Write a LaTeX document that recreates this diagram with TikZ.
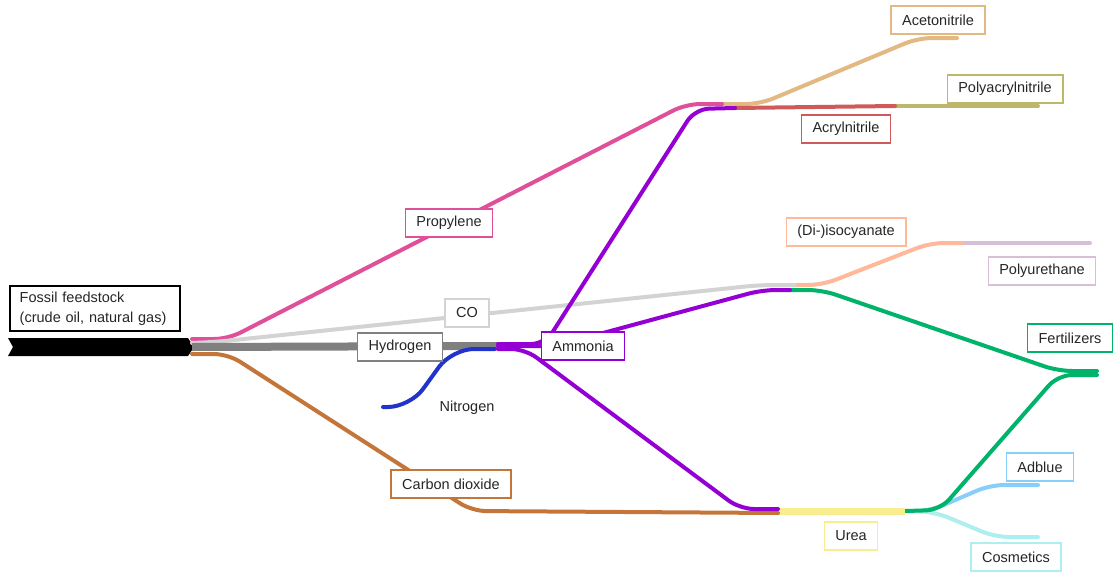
\documentclass[tikz,border=0pt]{standalone}
\usepackage{fontspec}
\setmainfont{Liberation Sans}
\definecolor{propcol}{RGB}{224,80,154}
\definecolor{acetcol}{RGB}{226,185,130}
\definecolor{acrycol}{RGB}{208,90,90}
\definecolor{pancol}{RGB}{189,183,107}
\definecolor{ammcol}{RGB}{148,0,211}
\definecolor{cocol}{RGB}{211,211,211}
\definecolor{hydcol}{RGB}{128,128,128}
\definecolor{co2col}{RGB}{196,118,58}
\definecolor{nitcol}{RGB}{34,51,204}
\definecolor{fertcol}{RGB}{0,179,107}
\definecolor{isocol}{RGB}{255,184,153}
\definecolor{purcol}{RGB}{216,191,216}
\definecolor{ureacol}{RGB}{248,238,144}
\definecolor{adbcol}{RGB}{135,206,250}
\definecolor{cosmcol}{RGB}{175,238,238}

\begin{document}
\begin{tikzpicture}[
        x=1pt, y=-1pt,
        flow/.style={line width=4pt, line cap=round, rounded corners=14pt},
        lbl/.style={draw, fill=white, line width=1.5pt, inner xsep=11pt,
                    minimum height=28pt, text=black!85,
                    font=\fontsize{14.5}{17}\selectfont}
    ]
        \useasboundingbox (0,0) rectangle (1118,573);

        \node[draw=black, line width=1.5pt, anchor=north west,
              minimum width=170pt, minimum height=45pt, text width=150pt,
              align=left, text=black!85, font=\fontsize{14.5}{20}\selectfont] (feed)
            at (9,285) {Fossil feedstock\\(crude oil, natural gas)};
        \fill[black] (8,338) -- (188,338) -- (194,347) -- (188,356)
            -- (8,356) -- (13,347) -- cycle;

        % junctions
        \coordinate (fs)  at (192,347);
        \coordinate (nh)  at (498,346);
        \coordinate (pj)  at (722,104);
        \coordinate (aj)  at (735,108);
        \coordinate (pa)  at (895,106);
        \coordinate (ij)  at (790,287);
        \coordinate (pu)  at (958,243);
        \coordinate (us)  at (778,511);
        \coordinate (ue)  at (905,511);
        \coordinate (fe)  at (1097,373);

        % products
        \draw[flow, purcol]  (pu) -- (1090,243);
        \draw[flow, pancol]  (pa) -- (1038,106);
        \draw[flow, acetcol] ([xshift=-4pt]pj) -- (760,104) -- (918,38) -- (957,38);
        \draw[flow, isocol]  ([yshift=2pt]ij) -- (822,285) -- (930,243) -- ([xshift=4pt]pu);
        \draw[flow, adbcol]  (ue) -- (930,511) -- (990,485) -- (1038,485);
        \draw[flow, cosmcol] (ue) -- (935,512) -- (995,537) -- (1038,537);
        \draw[flow, fertcol] ([yshift=-3pt]ij) -- (822,290) -- (1058,371) -- ([yshift=2pt]fe);
        \draw[flow, fertcol] (ue) -- (940,510) -- (1058,375) -- ([yshift=-2pt]fe);
        \draw[flow, ureacol, line width=7pt, line cap=butt] (us) -- (ue);
        \draw[flow, acrycol] (aj) -- (pa);

        % feedstock streams
        \draw[flow, co2col]  ([yshift=-7pt]fs) -- (228,354) -- (472,511) -- ([yshift=-2pt]us);
        \draw[flow, propcol] ([yshift=8pt]fs) -- (228,339) -- (686,104) -- (pj);
        \draw[flow, cocol]   ([yshift=4pt]fs) -- (215,342) -- (760,285) -- ([xshift=5pt,yshift=2pt]ij);
        \draw[flow, hydcol, line width=8pt, line cap=butt] (fs) -- ([xshift=2pt]nh);
        \draw[flow, nitcol, rounded corners=22pt] (383,407) -- (410,407) -- (452,349) -- ([xshift=-3pt,yshift=-3pt]nh);

        % ammonia streams
        \draw[flow, ammcol] ([yshift=2pt]nh) -- (545,344) -- (695,109) -- (aj);
        \draw[flow, ammcol] (nh) -- (555,346) -- (762,290) -- ([yshift=-3pt]ij);
        \draw[flow, ammcol] ([yshift=-3pt]nh) -- (525,349) -- (740,509) -- ([yshift=2pt]us);

        \node[lbl, draw=acetcol] (acn)  at (938,20)  {Acetonitrile};
        \node[lbl, draw=pancol]  (pan)  at (1005,89) {Polyacrylnitrile};
        \node[lbl, draw=acrycol] (acr)  at (846,129) {Acrylnitrile};
        \node[lbl, draw=propcol] (prop) at (449,223) {Propylene};
        \node[lbl, draw=isocol]  (iso)  at (846,232) {(Di-)isocyanate};
        \node[lbl, draw=purcol]  (pur)  at (1042,271) {Polyurethane};
        \node[lbl, draw=cocol]   (co)   at (467,313) {CO};
        \node[lbl, draw=hydcol]  (hyd)  at (400,347) {Hydrogen};
        \node[lbl, draw=ammcol]  (amm)  at (583,346) {Ammonia};
        \node[lbl, draw=fertcol] (fert) at (1070,338) {Fertilizers};
        \node[lbl, draw=co2col]  (cdo)  at (451,484) {Carbon dioxide};
        \node[lbl, draw=ureacol] (urea) at (851,536) {Urea};
        \node[lbl, draw=adbcol]  (adb)  at (1040,467) {Adblue};
        \node[lbl, draw=cosmcol] (cosm) at (1016,557) {Cosmetics};
        \node[lbl, draw=none, fill=none] (nit) at (467,408) {Nitrogen};
    \end{tikzpicture}
\end{document}
